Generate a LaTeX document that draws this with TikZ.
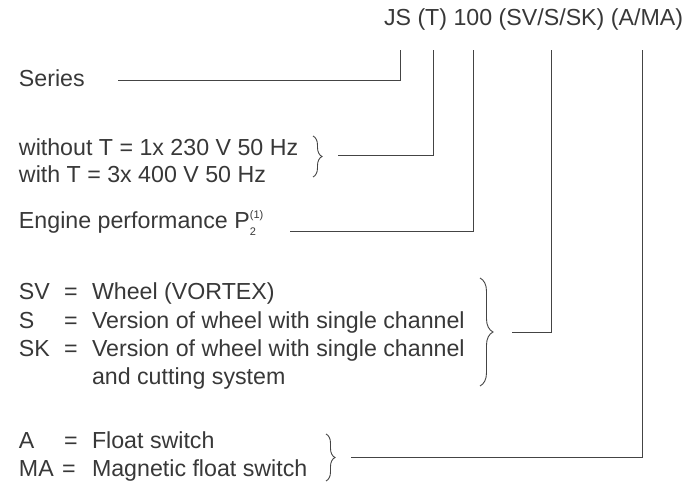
\documentclass[tikz,border=0pt]{standalone}
\usepackage{fontspec}
\setmainfont{Liberation Sans}
\usetikzlibrary{decorations.pathreplacing}
\definecolor{txt}{HTML}{383838}
\definecolor{ln}{HTML}{444444}
\tikzset{
  lbl/.style={anchor=base west, inner sep=0pt, outer sep=0pt, text=txt,
    font=\fontsize{23.2}{28.5}\selectfont},
  conn/.style={draw=ln, line width=0.9pt},
  curly/.style={draw=ln, line width=0.9pt, decorate,
    decoration={brace, amplitude=#1}},
}
\newcommand{\smallfs}{\fontsize{11}{11}\selectfont}
\begin{document}
\begin{tikzpicture}[x=1pt,y=-1pt]
\useasboundingbox (0,0) rectangle (686,489);
% title
\node[lbl] (title) at (384,26) {JS (T) 100 (SV/S/SK) (A/MA)};
% tops of the connector stems
\coordinate (tJS) at (400.5,50);
\coordinate (tT)  at (433.5,50);
\coordinate (tN)  at (473.5,50);
\coordinate (tSV) at (551.5,50);
\coordinate (tA)  at (642.5,50);
% Series
\node[lbl] (series) at (19,87) {Series};
\coordinate (sS) at (118,80);
\draw[conn] (sS) -| (tJS);
% voltage
\node[lbl] (v1) at (19,156) {without T = 1x 230 V 50 Hz};
\node[lbl] (v2) at (19,183) {with T = 3x 400 V 50 Hz};
\coordinate (b1a) at (313,136);
\coordinate (b1b) at (313,177);
\draw[curly=9pt] (b1a) -- (b1b);
\coordinate (sT) at (338,155);
\draw[conn] (sT) -| (tT);
% engine
\node[lbl] (eng) at (19,229) {Engine performance P\rlap{\smallfs\raisebox{-7pt}{2}}\raisebox{10pt}{\smallfs(1)}};
\coordinate (sN) at (290,231);
\draw[conn] (sN) -| (tN);
% wheel
\node[lbl] (sv)  at (19,300) {SV};
\node[lbl] (sve) at (64,300) {=};
\node[lbl] (svt) at (92,300) {Wheel (VORTEX)};
\node[lbl] (s)   at (19,328) {S};
\node[lbl] (se)  at (64,328) {=};
\node[lbl] (st)  at (92,328) {Version of wheel with single channel};
\node[lbl] (sk)  at (19,356) {SK};
\node[lbl] (ske) at (64,356) {=};
\node[lbl] (skt) at (92,356) {Version of wheel with single channel};
\node[lbl] (skt2) at (92,384) {and cutting system};
\coordinate (b2a) at (480,278);
\coordinate (b2b) at (480,386);
\draw[curly=13pt] (b2a) -- (b2b);
\coordinate (sSV) at (512,332);
\draw[conn] (sSV) -| (tSV);
% float
\node[lbl] (a)   at (19,448) {A};
\node[lbl] (ae)  at (64,448) {=};
\node[lbl] (at)  at (92,448) {Float switch};
\node[lbl] (ma)  at (19,476) {MA};
\node[lbl] (mae) at (62,476) {=};
\node[lbl] (mat) at (92,476) {Magnetic float switch};
\coordinate (b3a) at (326,434);
\coordinate (b3b) at (326,481);
\draw[curly=9pt] (b3a) -- (b3b);
\coordinate (sA) at (351,457);
\draw[conn] (sA) -| (tA);
\end{tikzpicture}
\end{document}
